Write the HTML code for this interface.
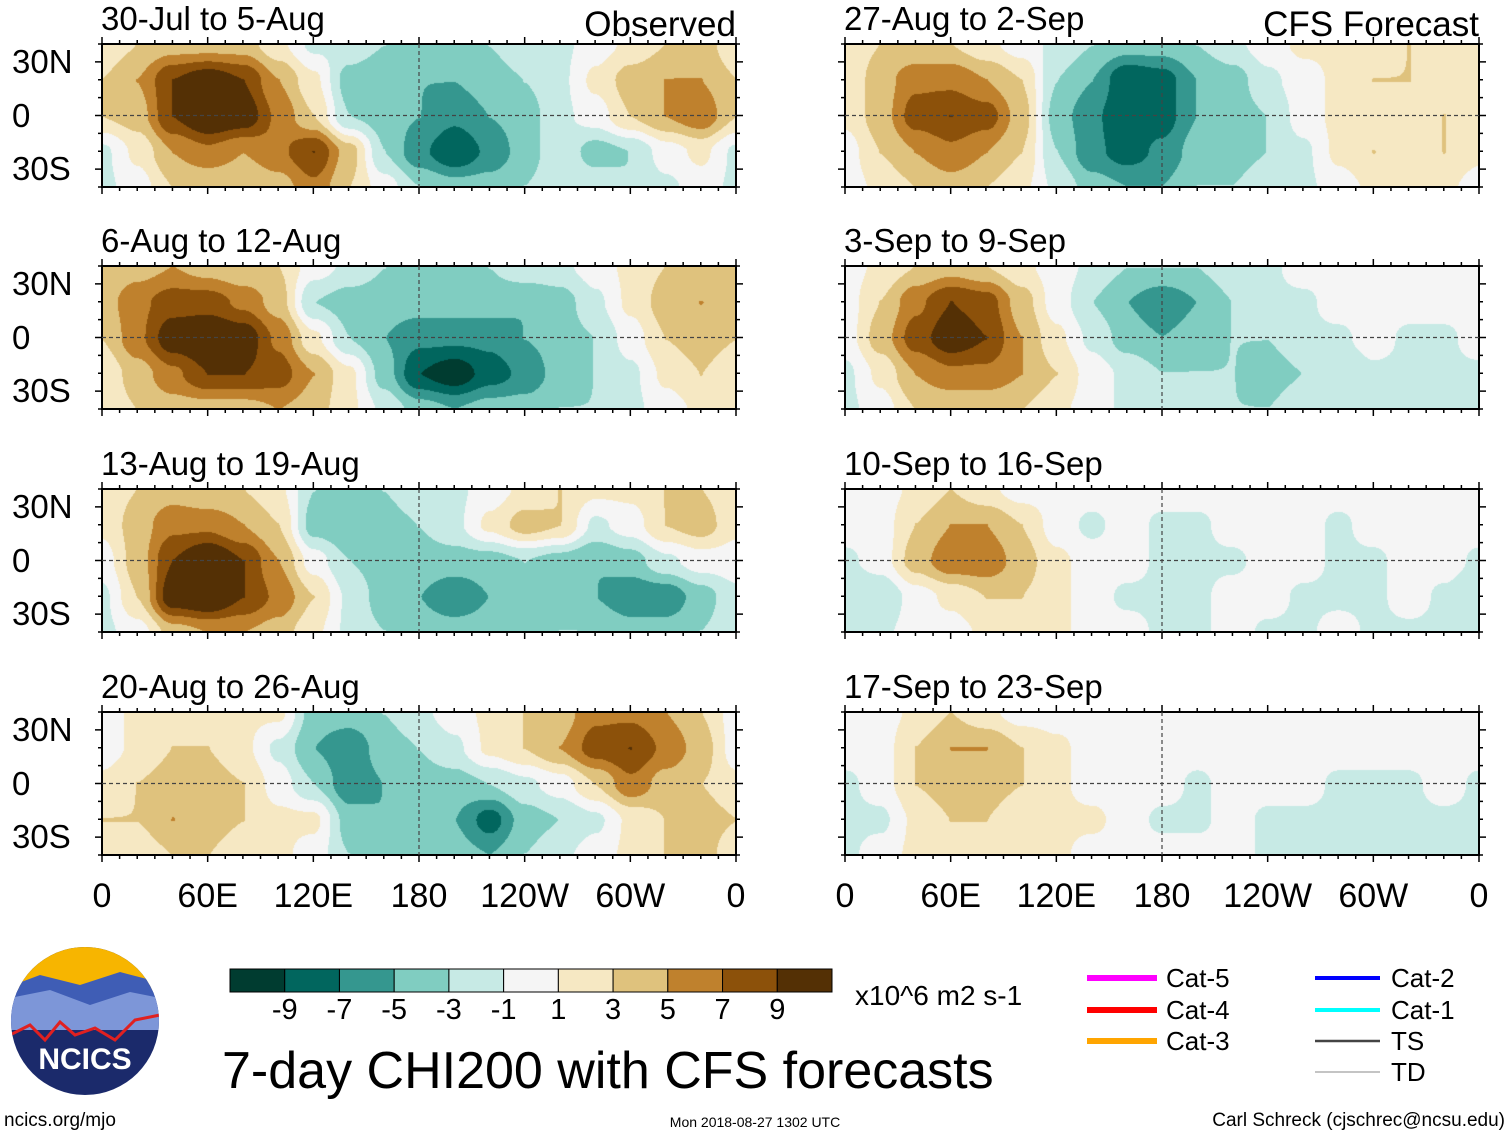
<!DOCTYPE html>
<html><head><meta charset="utf-8">
<style>
body{margin:0;background:#fff;}
#root{position:relative;width:1510px;height:1137px;overflow:hidden;font-family:"Liberation Sans",sans-serif;color:#000;}
.t{position:absolute;white-space:nowrap;line-height:1;}
canvas{position:absolute;}
</style></head>
<body>
<div id="root">
<svg id="svg" width="1510" height="1137" style="position:absolute;left:0;top:0"></svg>
</div>
<script>
// Data: lon grid 0..360 step 20, lat rows 40N,20N,0,20S,40S
const lons=[0,20,40,60,80,100,120,140,160,180,200,220,240,260,280,300,320,340,360];
const lats=[40,20,0,-20,-40];
const levels=[-9,-7,-5,-3,-1,1,3,5,7,9];
const colors=["#003c30","#01665e","#35978f","#80cdc1","#c7eae5","#f5f5f5","#f6e8c3","#dfc27d","#bf812d","#8c510a","#543005"];
const titles=["30-Jul to 5-Aug","6-Aug to 12-Aug","13-Aug to 19-Aug","20-Aug to 26-Aug","27-Aug to 2-Sep","3-Sep to 9-Sep","10-Sep to 16-Sep","17-Sep to 23-Sep"];
const xTickLabels=["0","60E","120E","180","120W","60W","0"];
const yTickLabels=["30N","0","30S"];
const field1=[[1.5,3,4,4,4,1.5,-1.5,-1.5,-3,-4,-4,-3,-1.5,-1.5,0,1.5,3,4,1.5],[3,5,9,10.5,9,5,1.5,-4,-5,-5,-5,-4,-3,-1.5,1.5,4,5,5,3],[3,4,9,11.5,10.5,6.5,3,-3,-4,-5,-6.5,-5,-4,-1.5,0,3,5,6.5,3],[-1.5,1.5,5,6.5,5,6.5,9,4,-3,-6.5,-9,-6.5,-4,-1.5,-4,-3,0,1.5,-1.5],[-1.5,0,3,3,3,4,6.5,3,0,-3,-4,-4,-3,-1.5,-1.5,-3,-1.5,0,-1.5]];
const field2=[[3,4,5,4,3,3,0,-1.5,-3,-4,-4,-3,-1.5,-1.5,0,1.5,3,3,3],[4,6.5,8,8,6.5,4,-3,-4,-4,-4,-4,-4,-5,-4,-1.5,1.5,4,5,4],[3,6.5,10.5,11.5,10.5,6.5,1.5,-3,-5,-6.5,-6.5,-6.5,-5,-4,-3,0,3,4,3],[1.5,4,6.5,9,9,8,5,1.5,-4,-9,-10.5,-8,-6.5,-4,-3,-1.5,1.5,3,1.5],[1.5,3,4,4,4,5,4,1.5,-1.5,-4,-5,-4,-4,-3,-3,-1.5,0,1.5,1.5]];
const field3=[[1.5,3,4,3,3,1.5,-3,-4,-3,-1.5,-1.5,0,1.5,3,1.5,1.5,3,3,1.5],[1.5,4,6.5,6.5,5,3,-4,-5,-4,-3,-1.5,1.5,4,3,-1.5,0,3,4,1.5],[0,4,9,11.5,9,5,0,-3,-4,-4,-4,-4,-3,-4,-5,-4,-1.5,0,0],[-1.5,3,10.5,11.5,9,6.5,3,-1.5,-4,-5,-6.5,-5,-5,-4,-5,-6.5,-6.5,-4,-1.5],[-1.5,0,4,5,5,4,1.5,-1.5,-3,-4,-4,-4,-4,-3,-3,-4,-4,-3,-1.5]];
const field4=[[0,1.5,1.5,1.5,1.5,1.5,-4,-4,-3,-1.5,0,1.5,3,4,6.5,6.5,5,3,0],[0,1.5,3,3,1.5,-1.5,-5,-6.5,-4,-3,-1.5,1.5,3,5,8,9,6.5,4,0],[1.5,3,4,4,3,0,-3,-6.5,-5,-4,-4,-3,-1.5,0,3,6.5,4,3,1.5],[3,3,5,4,3,1.5,1.5,-4,-5,-4,-5,-8,-4,-3,-1.5,1.5,3,4,3],[1.5,1.5,3,3,1.5,1.5,0,-3,-4,-4,-4,-5,-3,-1.5,0,1.5,3,4,1.5]];
const field5=[[1.5,3,3,3,1.5,0,-1.5,-3,-4,-4,-3,-1.5,0,1.5,1.5,1.5,3,1.5,1.5],[1.5,4,6.5,6.5,5,3,-3,-5,-9,-8,-5,-4,-1.5,0,1.5,3,3,1.5,1.5],[1.5,4,8,9,8,4,-4,-6.5,-9,-8,-5,-4,-3,0,1.5,1.5,1.5,3,1.5],[0,3,5,6.5,5,3,-3,-6.5,-8,-6.5,-4,-4,-3,-1.5,1.5,3,1.5,3,1.5],[0,1.5,3,4,3,1.5,-1.5,-4,-5,-5,-3,-3,-1.5,-1.5,0,1.5,1.5,1.5,0]];
const field6=[[0,1.5,3,4,3,1.5,0,-1.5,-3,-3,-3,-1.5,-1.5,0,0,0,0,0,0],[0,3,6.5,9,8,4,0,-3,-5,-6.5,-5,-3,-1.5,-1.5,0,0,0,0,0],[0,4,8,10.5,9,5,1.5,-1.5,-4,-5,-4,-3,-3,-1.5,-1.5,0,-1.5,-1.5,0],[-1.5,1.5,5,6.5,6.5,5,3,0,-1.5,-3,-3,-3,-4,-3,-3,-1.5,-1.5,-1.5,-1.5],[-1.5,0,3,3,3,3,1.5,0,-1.5,-1.5,-1.5,-3,-3,-1.5,-1.5,-1.5,-1.5,-1.5,-1.5]];
const field7=[[0,0,1.5,3,1.5,0,0,0,0,0,0,0,0,0,0,0,0,0,0],[0,0,3,5,5,3,0,-1.5,0,-1.5,-1.5,0,0,0,-1.5,0,0,0,0],[-1.5,0,4,6.5,6.5,4,1.5,0,0,-1.5,-1.5,-1.5,0,0,-1.5,-1.5,0,0,-1.5],[-3,-3,0,1.5,3,3,1.5,0,-1.5,-1.5,-1.5,0,0,-1.5,-1.5,-1.5,0,-1.5,-3],[-3,-1.5,0,0,1.5,1.5,1.5,0,0,-1.5,-1.5,0,-1.5,-1.5,0,-1.5,-1.5,-1.5,-3]];
const field8=[[0,0,1.5,3,1.5,0,0,0,0,0,0,0,0,0,0,0,0,0,0],[0,0,3,5,5,3,1.5,0,0,0,0,0,0,0,0,0,0,0,0],[-1.5,0,3,4,4,3,1.5,0,0,0,-1.5,0,0,0,-1.5,-1.5,-1.5,0,-1.5],[-1.5,-1.5,1.5,3,3,1.5,1.5,1.5,0,-1.5,-1.5,0,-1.5,-1.5,-1.5,-3,-1.5,-1.5,-1.5],[-1.5,0,1.5,1.5,1.5,1.5,1.5,0,0,0,0,0,-1.5,-1.5,-1.5,-1.5,-1.5,-1.5,-1.5]];
const fields=[field1,field2,field3,field4,field5,field6,field7,field8];
const cbLabels=["-9","-7","-5","-3","-1","1","3","5","7","9"];

const root=document.getElementById('root');
const svg=document.getElementById('svg');
const NS="http://www.w3.org/2000/svg";
const colX=[102,845], rowY=[44,266,489,712], PW=634, PH=143;
function xScale(lon,x0){return x0+lon/360*PW;}
function yScale(lat,y0){return y0+(40-lat)/80*PH;}
function addText(txt,x,y,size,name,anchor){
  const d=document.createElement('div');d.className='t';d.textContent=txt;
  d.style.fontSize=size+'px';d.style.top=y+'px';
  if(anchor==='c'){d.style.left=(x-300)+'px';d.style.width='600px';d.style.textAlign='center';}
  else if(anchor==='r'){d.style.right=(1510-x)+'px';}
  else d.style.left=x+'px';
  
  
  root.appendChild(d);return d;
}
function line(x1,y1,x2,y2,stroke,w,name,dash){
  const l=document.createElementNS(NS,'line');
  l.setAttribute('x1',x1);l.setAttribute('y1',y1);l.setAttribute('x2',x2);l.setAttribute('y2',y2);
  l.setAttribute('stroke',stroke);l.setAttribute('stroke-width',w);
  if(dash)l.setAttribute('stroke-dasharray',dash);
  
  
  svg.appendChild(l);
}
function sample(f,lon,lat){
  let i=lon/20, j=(40-lat)/20;
  let i0=Math.min(Math.floor(i),17), j0=Math.min(Math.floor(j),3);
  let fx=i-i0, fy=j-j0;
  fx=fx*fx*(3-2*fx); fy=fy*fy*(3-2*fy);
  const a=f[j0][i0],b=f[j0][i0+1],c=f[j0+1][i0],d=f[j0+1][i0+1];
  return a*(1-fx)*(1-fy)+b*fx*(1-fy)+c*(1-fx)*fy+d*fx*fy+0.013;
}
function rgb(h){return [parseInt(h.substr(1,2),16),parseInt(h.substr(3,2),16),parseInt(h.substr(5,2),16)];}
const rgbs=colors.map(rgb);
for(let p=0;p<8;p++){
  const col=p<4?0:1, row=p%4, x0=colX[col], y0=rowY[row];
  const cv=document.createElement('canvas');cv.width=PW;cv.height=PH;
  cv.style.left=x0+'px';cv.style.top=y0+'px';
  
  
  root.insertBefore(cv,svg);
  const ctx=cv.getContext('2d');const img=ctx.createImageData(PW,PH);
  for(let y=0;y<PH;y++)for(let x=0;x<PW;x++){
    const v=sample(fields[p],x/PW*360,40-y/PH*80);
    let k=0;for(const L of levels)if(v>L)k++;
    const c=rgbs[k],o=(y*PW+x)*4;
    img.data[o]=c[0];img.data[o+1]=c[1];img.data[o+2]=c[2];img.data[o+3]=255;
  }
  ctx.putImageData(img,0,0);
  const r=document.createElementNS(NS,'rect');
  r.setAttribute('x',x0);r.setAttribute('y',y0);r.setAttribute('width',PW);r.setAttribute('height',PH);
  r.setAttribute('fill','none');r.setAttribute('stroke','#000');r.setAttribute('stroke-width',2);
  
  
  svg.appendChild(r);
  line(x0,yScale(0,y0),x0+PW,yScale(0,y0),'#444',1.2,'equator-line','4,3');
  line(xScale(180,x0),y0,xScale(180,x0),y0+PH,'#444',1.2,'dateline','4,3');
  for(let lo=0;lo<=360;lo+=10){const tl=lo%60===0?7:4;const xx=xScale(lo,x0);
    line(xx,y0,xx,y0-tl,'#000',1.5,'x-tick');line(xx,y0+PH,xx,y0+PH+tl,'#000',1.5,'x-tick');}
  for(let la=-40;la<=40;la+=10){const tl=la%30===0?7:4;const yy=yScale(la,y0);
    line(x0,yy,x0-tl,yy,'#000',1.5,'y-tick');line(x0+PW,yy,x0+PW+tl,yy,'#000',1.5,'y-tick');}
  addText(titles[p],x0-1,y0-42,33,'panel-title-'+(p+1));
  if(col===0){[30,0,-30].forEach((la,i)=>{addText(yTickLabels[i],12,yScale(la,y0)-17,33,'y-tick-label');});}
}
addText("Observed",736,7,35,'observed-label','r');
addText("CFS Forecast",1479,7,35,'cfs-forecast-label','r');
for(let c=0;c<2;c++)for(let i=0;i<7;i++)addText(xTickLabels[i],colX[c]+i*60/360*PW,879,34,'x-tick-label','c');
const cbx=230,cbw=602,cby=969,cbh=23;
colors.forEach((c,i)=>{const r=document.createElementNS(NS,'rect');
  r.setAttribute('x',cbx+i*cbw/11);r.setAttribute('y',cby);r.setAttribute('width',cbw/11);r.setAttribute('height',cbh);
  r.setAttribute('fill',c);r.setAttribute('stroke','#000');r.setAttribute('stroke-width',1);
  
  
  svg.appendChild(r);});
cbLabels.forEach((t,i)=>addText(t,cbx+(i+1)*cbw/11,996,29,'colorbar-label','c'));
addText("x10^6 m2 s-1",855,982,28,'units-label');
addText("7-day CHI200 with CFS forecasts",222,1045,52,'main-title');
const leg=[["Cat-5","#ff00ff",1087,978,6],["Cat-4","#ff0000",1087,1010,6],["Cat-3","#ffa500",1087,1041,6],["Cat-2","#0000ff",1315,978,4],["Cat-1","#00ffff",1315,1010,4],["TS","#444",1315,1041,2.5],["TD","#888",1315,1072,1]];
leg.forEach(l=>{line(l[2],l[3],l[2]+(l[2]<1200?70:65),l[3],l[1],l[4],'legend-line-'+l[0].toLowerCase());
  addText(l[0],l[2]+(l[2]<1200?79:76),l[3]-13,26,'legend-label-'+l[0].toLowerCase());});
const g=document.createElementNS(NS,'g');
g.innerHTML='<defs><clipPath id="lc"><circle cx="85" cy="1021" r="74"/></clipPath></defs><g clip-path="url(#lc)"><rect x="0" y="940" width="170" height="170" fill="#1b2a6b"/><rect x="0" y="940" width="170" height="50" fill="#f7b500"/><path d="M0 990 L40 975 L80 985 L120 972 L170 985 L170 1010 L0 1010Z" fill="#3f5db5"/><path d="M0 1000 L50 990 L90 1005 L130 992 L170 1000 L170 1030 L0 1030Z" fill="#7d96d8"/><path d="M10 1035 L30 1025 L45 1040 L60 1022 L75 1035 L95 1028 L115 1040 L135 1020 L160 1015" stroke="#e02020" stroke-width="3" fill="none"/></g>';
svg.appendChild(g);
const nt=addText("NCICS",85,1045,30,'ncics-logo-text','c');nt.style.color='#fff';nt.style.fontWeight='bold';
addText("ncics.org/mjo",4,1111,19,'site-url');
addText("Mon 2018-08-27 1302 UTC",755,1115,14,'timestamp','c');
addText("Carl Schreck (cjschrec@ncsu.edu)",1505,1111,19,'author-credit','r');
</script>
</body></html>
